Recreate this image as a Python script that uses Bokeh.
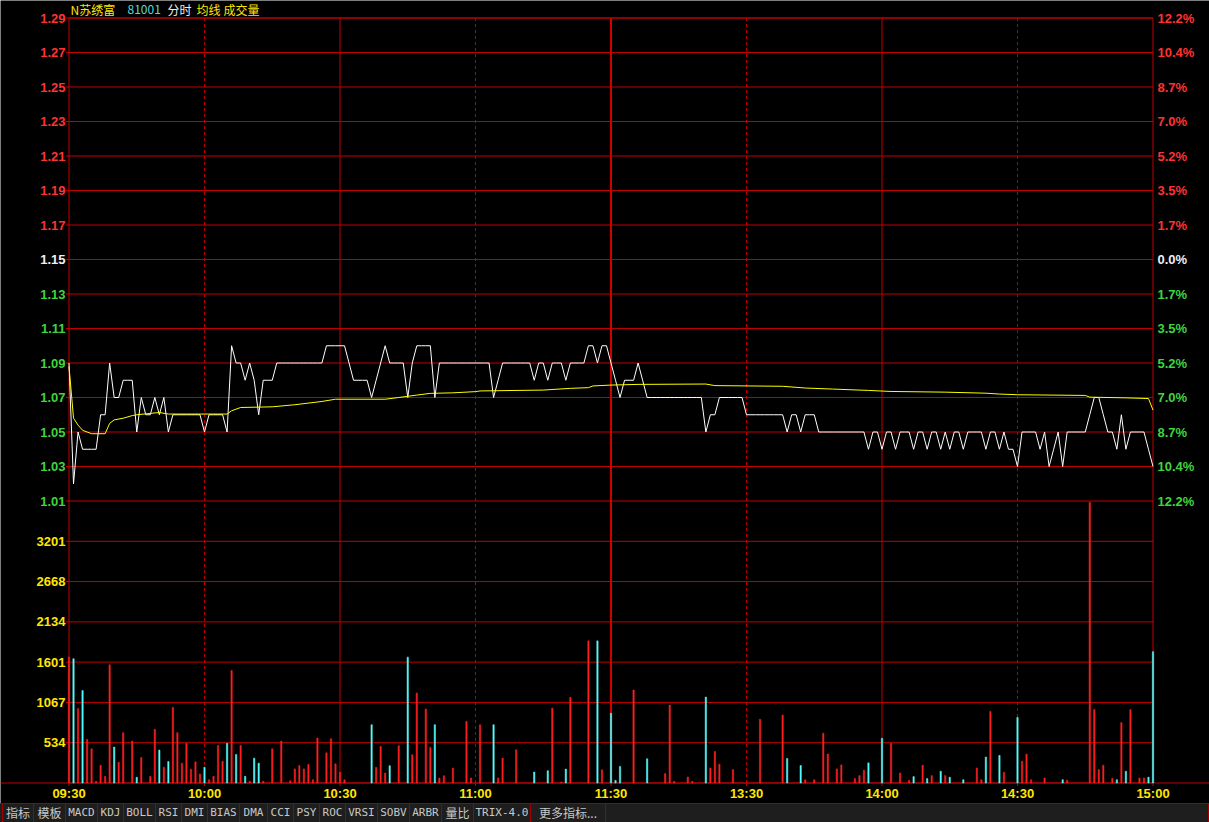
from bokeh.plotting import figure
from bokeh.models import Range1d, Div, ColumnDataSource
from bokeh.core.properties import value
from bokeh.layouts import column
from bokeh.embed import file_html
from bokeh.resources import INLINE

# ---------------- data ----------------
title_parts = ["N苏绣富", "81001", "分时", "均线", "成交量"]

minutes = list(range(241))
price = [
    1.09, 1.02, 1.05, 1.04, 1.04, 1.04, 1.04, 1.06, 1.06, 1.09,
    1.07, 1.07, 1.08, 1.08, 1.08, 1.05, 1.07, 1.06, 1.06, 1.07,
    1.06, 1.07, 1.05, 1.06, 1.06, 1.06, 1.06, 1.06, 1.06, 1.06,
    1.05, 1.06, 1.06, 1.06, 1.06, 1.05, 1.10, 1.09, 1.09, 1.08,
    1.09, 1.08, 1.06, 1.08, 1.08, 1.08, 1.09, 1.09, 1.09, 1.09,
    1.09, 1.09, 1.09, 1.09, 1.09, 1.09, 1.09, 1.10, 1.10, 1.10,
    1.10, 1.10, 1.09, 1.08, 1.08, 1.08, 1.08, 1.07, 1.08, 1.09,
    1.10, 1.09, 1.09, 1.09, 1.09, 1.07, 1.09, 1.10, 1.10, 1.10,
    1.10, 1.07, 1.09, 1.09, 1.09, 1.09, 1.09, 1.09, 1.09, 1.09,
    1.09, 1.09, 1.09, 1.09, 1.07, 1.08, 1.09, 1.09, 1.09, 1.09,
    1.09, 1.09, 1.09, 1.08, 1.09, 1.09, 1.08, 1.09, 1.09, 1.09,
    1.08, 1.09, 1.09, 1.09, 1.09, 1.10, 1.10, 1.09, 1.10, 1.10,
    1.09, 1.08, 1.07, 1.08, 1.08, 1.08, 1.09, 1.08, 1.07, 1.07,
    1.07, 1.07, 1.07, 1.07, 1.07, 1.07, 1.07, 1.07, 1.07, 1.07,
    1.07, 1.05, 1.06, 1.06, 1.07, 1.07, 1.07, 1.07, 1.07, 1.07,
    1.06, 1.06, 1.06, 1.06, 1.06, 1.06, 1.06, 1.06, 1.06, 1.05,
    1.06, 1.06, 1.05, 1.06, 1.06, 1.06, 1.05, 1.05, 1.05, 1.05,
    1.05, 1.05, 1.05, 1.05, 1.05, 1.05, 1.05, 1.04, 1.05, 1.05,
    1.04, 1.05, 1.05, 1.04, 1.05, 1.05, 1.05, 1.04, 1.05, 1.05,
    1.04, 1.05, 1.05, 1.04, 1.05, 1.04, 1.05, 1.05, 1.04, 1.05,
    1.05, 1.05, 1.05, 1.04, 1.05, 1.05, 1.04, 1.05, 1.04, 1.04,
    1.03, 1.05, 1.05, 1.05, 1.05, 1.04, 1.05, 1.03, 1.04, 1.05,
    1.03, 1.05, 1.05, 1.05, 1.05, 1.05, 1.06, 1.07, 1.07, 1.06,
    1.05, 1.05, 1.04, 1.06, 1.04, 1.05, 1.05, 1.05, 1.05, 1.04,
    1.03,
]

avg_minute = [0, 1, 2, 3, 5, 8, 9, 10, 12, 14, 15, 20, 22, 35, 36, 38, 45, 50,
              56, 59, 70, 73, 77, 80, 85, 90, 91, 105, 111, 115, 116, 120, 126,
              141, 143, 158, 163, 169, 177, 182, 194, 203, 206, 210, 225, 226,
              234, 239, 240]
avg_price = [1.088, 1.058, 1.054, 1.051, 1.049, 1.049, 1.055, 1.057, 1.058,
             1.0595, 1.060, 1.0613, 1.0604, 1.0604, 1.0623, 1.0642, 1.0646,
             1.0658, 1.0677, 1.069, 1.069, 1.070, 1.0714, 1.0724, 1.0727,
             1.0734, 1.0738, 1.0743, 1.0753, 1.0757, 1.0767, 1.0772, 1.0776,
             1.0778, 1.0769, 1.0765, 1.0755, 1.0749, 1.0741, 1.0735, 1.0731,
             1.0725, 1.072, 1.0716, 1.0712, 1.0702, 1.0698, 1.0694, 1.0627]

vol_minute = [0, 1, 2, 3, 4, 5, 6, 7, 8, 9, 10, 11, 12, 14, 15, 16, 18, 19, 20,
              21, 22, 23, 24, 25, 26, 27, 28, 29, 30, 31, 32, 33, 34, 35, 36,
              37, 38, 39, 40, 41, 42, 43, 45, 47, 49, 50, 51, 52, 53, 54, 55,
              57, 58, 59, 60, 61, 67, 68, 69, 70, 71, 73, 75, 76, 77, 79, 80,
              81, 82, 83, 85, 88, 89, 91, 94, 95, 96, 99, 103, 106, 107, 109,
              110, 111, 115, 117, 118, 120, 121, 122, 125, 128, 132, 133, 134,
              137, 138, 141, 142, 143, 144, 147, 153, 158, 159, 162, 163, 165,
              167, 168, 170, 171, 174, 175, 176, 177, 180, 182, 184, 186, 187,
              189, 190, 191, 193, 194, 195, 198, 201, 202, 203, 204, 206, 207,
              210, 211, 212, 213, 216, 220, 221, 226, 227, 228, 229, 231, 232,
              233, 234, 235, 237, 238, 239, 240]
vol_value = [1669, 1646, 988, 1224, 578, 454, 22, 236, 89, 1566, 476, 276, 667,
             556, 76, 338, 89, 712, 436, 209, 285, 1001, 667, 263, 525, 182,
             280, 120, 209, 44, 89, 498, 289, 525, 1491, 378, 498, 89, 22, 329,
             263, 22, 454, 556, 31, 187, 231, 187, 245, 44, 596, 400, 587, 254,
             142, 44, 772, 207, 485, 132, 229, 494, 1667, 375, 1191, 979, 472,
             772, 66, 97, 198, 816, 66, 772, 772, 66, 330, 440, 145, 163, 992,
             13, 185, 1135, 1883, 1883, 176, 924, 35, 220, 1232, 320, 125, 1032,
             22, 80, 22, 1139, 200, 418, 249, 178, 846, 899, 325, 231, 44, 44,
             659, 383, 187, 240, 58, 98, 169, 267, 592, 525, 133, 36, 85, 236,
             58, 98, 156, 98, 76, 44, 200, 44, 343, 948, 365, 142, 868, 289, 383,
             44, 66, 44, 36, 3718, 975, 178, 235, 62, 44, 800, 155, 972, 66, 66,
             78, 1740]
# u = up tick (red bar), d = down tick (cyan bar), one letter per bar above
vol_dir = list("ududuuuuuu" "duuuduuudu" "duuuuuuudu" "uuudududud"
               "duuuuuuuuu" "uuuuuuduuu" "duduuuuduu" "uuuuduuudd"
               "uuduududdd" "uduuuuuduu" "uuuudduuuu" "uuuuudduuu"
               "dudududduu" "dududuuuud" "uuuuuududu" "uudd")

price_ticks = [1.01, 1.03, 1.05, 1.07, 1.09, 1.11, 1.13, 1.15, 1.17, 1.19,
               1.21, 1.23, 1.25, 1.27, 1.29]
price_labels = ["1.01", "1.03", "1.05", "1.07", "1.09", "1.11", "1.13", "1.15",
                "1.17", "1.19", "1.21", "1.23", "1.25", "1.27", "1.29"]
pct_labels = ["12.2%", "10.4%", "8.7%", "7.0%", "5.2%", "3.5%", "1.7%", "0.0%",
              "1.7%", "3.5%", "5.2%", "7.0%", "8.7%", "10.4%", "12.2%"]
base_price = 1.15
vol_ticks = [534, 1067, 1601, 2134, 2668, 3201]
vol_labels = ["534", "1067", "1601", "2134", "2668", "3201"]
vol_top = 3735
time_ticks = [0, 30, 60, 90, 120, 150, 180, 210, 240]
time_labels = ["09:30", "10:00", "10:30", "11:00", "11:30", "13:30", "14:00",
               "14:30", "15:00"]
dashed_times = [30, 90, 150, 210]
solid_times = [60, 180]
noon_time = 120
tabs = ["指标", "模板", "MACD", "KDJ", "BOLL", "RSI", "DMI", "BIAS", "DMA", "CCI",
        "PSY", "ROC", "VRSI", "SOBV", "ARBR", "量比", "TRIX-4.0", "更多指标..."]

# ---------------- styling / geometry ----------------
RED_GRID = "#c00000"
RED_TXT = "#ff3232"
GREEN_TXT = "#3fd43f"
WHITE_TXT = "#f0f0f0"
YELLOW = "#ffe600"
CYAN_TXT = "#5fd7d7"
UP = "#ff1e1e"
DOWN = "#54fcfc"

W, H = 1209, 803          # chart canvas (tab bar below it)
X0_PX = 68.5              # pixel of 09:30
PLOT_W = 1084.0           # pixels for 240 minutes
Y_TOP_PX, Y_MID_PX, Y_BOT_PX = 17.5, 500.5, 782.5
kx = PLOT_W / 240.0
x_start = -X0_PX / kx
x_end = (W - X0_PX) / kx

P_TOP, P_BOT = price_ticks[-1], price_ticks[0]
ppx = (P_TOP - P_BOT) / (Y_MID_PX - Y_TOP_PX)     # price per pixel
py_end = P_TOP + Y_TOP_PX * ppx
py_start = P_TOP - (H - Y_TOP_PX) * ppx
pane_bottom = P_TOP - (Y_BOT_PX - Y_TOP_PX) * ppx
vpx = vol_top / (Y_BOT_PX - Y_MID_PX)             # volume per pixel
vy_end = Y_BOT_PX * vpx
vy_start = -(H - Y_BOT_PX) * vpx


def px_to_x(px):
    return (px - X0_PX) / kx


def px_to_price(py):
    return P_TOP - (py - Y_TOP_PX) * ppx


p = figure(width=W, height=H, x_range=Range1d(x_start, x_end),
           y_range=Range1d(py_start, py_end),
           output_backend="svg", toolbar_location=None,
           x_axis_type=None, y_axis_type=None,
           min_border=0, min_border_left=0, min_border_right=0,
           min_border_top=0, min_border_bottom=0,
           background_fill_color="black", border_fill_color="black")
p.outline_line_color = None
p.extra_y_ranges = {"vol": Range1d(vy_start, vy_end)}

# grid lines (price pane, volume pane)
p.segment(x0=[0] * len(price_ticks), x1=[240] * len(price_ticks),
          y0=price_ticks, y1=price_ticks, line_color=RED_GRID, line_width=1)
p.segment(x0=[0] * len(vol_ticks), x1=[240] * len(vol_ticks),
          y0=vol_ticks, y1=vol_ticks, line_color=RED_GRID, line_width=1,
          y_range_name="vol")
# full-width bottom line of volume pane
p.segment(x0=[x_start], x1=[x_end], y0=[0], y1=[0], line_color=RED_GRID,
          line_width=1, y_range_name="vol")

# vertical time lines
p.segment(x0=dashed_times, x1=dashed_times, y0=[pane_bottom] * 4, y1=[P_TOP] * 4,
          line_color=RED_GRID, line_width=1, line_dash="3 3")
p.segment(x0=solid_times, x1=solid_times, y0=[pane_bottom] * 2, y1=[P_TOP] * 2,
          line_color=RED_GRID, line_width=1)
p.segment(x0=[noon_time], x1=[noon_time], y0=[pane_bottom], y1=[P_TOP],
          line_color="#d00000", line_width=2)

# frame
p.quad(left=[0], right=[240], bottom=[pane_bottom], top=[P_TOP],
       fill_color=None, line_color=RED_GRID, line_width=1)

# small tick marks
tick_len = 3 / kx
p.segment(x0=[-tick_len] * len(price_ticks), x1=[0] * len(price_ticks),
          y0=price_ticks, y1=price_ticks, line_color=RED_GRID)
p.segment(x0=[-tick_len] * len(vol_ticks), x1=[0] * len(vol_ticks),
          y0=vol_ticks, y1=vol_ticks, line_color=RED_GRID, y_range_name="vol")
p.segment(x0=time_ticks, x1=time_ticks, y0=[pane_bottom] * len(time_ticks),
          y1=[pane_bottom - 3 * ppx] * len(time_ticks), line_color=RED_GRID)

# volume bars
src = ColumnDataSource(dict(x=vol_minute, top=vol_value,
                            c=[UP if d == "u" else DOWN for d in vol_dir]))
p.vbar(x="x", top="top", bottom=0, width=0.3, fill_color="c", line_color="c",
       line_width=0.5, source=src, y_range_name="vol")

# price and average lines
p.line(minutes, price, line_color="white", line_width=1)
p.line(avg_minute, avg_price, line_color="#ffff00", line_width=1)


def color_of(t):
    if abs(t - base_price) < 1e-9:
        return WHITE_TXT
    return RED_TXT if t > base_price else GREEN_TXT


num_font = value("Liberation Sans")
lab_colors = [color_of(t) for t in price_ticks]

# left price labels
p.text(x=[px_to_x(65)] * len(price_ticks), y=price_ticks, text=price_labels,
       text_color=lab_colors, text_font=num_font, text_font_style="bold",
       text_font_size="13px", text_align="right", text_baseline="middle")
# right percentage labels
p.text(x=[px_to_x(1157)] * len(price_ticks), y=price_ticks, text=pct_labels,
       text_color=lab_colors, text_font=num_font, text_font_style="bold",
       text_font_size="13px", text_align="left", text_baseline="middle")
# volume labels
p.text(x=[px_to_x(65)] * len(vol_ticks), y=vol_ticks, text=vol_labels,
       text_color=YELLOW, text_font=num_font, text_font_style="bold",
       text_font_size="13px", text_align="right", text_baseline="middle",
       y_range_name="vol")
# time labels
p.text(x=time_ticks, y=[px_to_price(793)] * len(time_ticks), text=time_labels,
       text_color=YELLOW, text_font=num_font, text_font_style="bold",
       text_font_size="13px", text_align="center", text_baseline="middle")

# header
head_px = [70, 127, 167, 196, 223]
head_colors = [YELLOW, CYAN_TXT, WHITE_TXT, YELLOW, YELLOW]
p.text(x=[px_to_x(v) for v in head_px], y=[px_to_price(9)] * len(head_px),
       text=title_parts, text_color=head_colors,
       text_font=value("Noto Sans CJK SC"), text_font_size="12px",
       text_align="left", text_baseline="middle")

# bottom tab bar
tab_w = [32, 32, 32, 26, 32, 26, 26, 32, 28, 26, 26, 26, 32, 32, 32, 32, 57, 75]
cells = []
for i, (name, w) in enumerate(zip(tabs, tab_w)):
    ascii_only = all(ord(ch) < 128 for ch in name)
    font = ("'DejaVu Sans Mono', monospace" if ascii_only else "'Noto Sans CJK SC'")
    size = "11px" if ascii_only else "12px"
    left_b = "border-left:1px solid #a00000;" if i == 0 else ""
    cells.append(
        f'<div style="width:{w}px;height:18px;box-sizing:border-box;{left_b}'
        f'border-right:1px solid #a00000;color:#c8c8c8;font-family:{font};'
        f'font-size:{size};line-height:18px;text-align:center;white-space:nowrap;'
        f'overflow:hidden;">{name}</div>')
bar_html = ('<div style="display:flex;width:1209px;height:19px;box-sizing:border-box;'
            'background:#1e1e1e;border-top:1px solid #a00000;padding-left:2px;'
            'border-right:1px solid #a00000;">' + "".join(cells) + '</div>')
bar = Div(text=bar_html, width=W, height=19, margin=(0, 0, 0, 0))

layout = column(p, bar, spacing=0)
open("out.html", "w").write(file_html(layout, INLINE))
